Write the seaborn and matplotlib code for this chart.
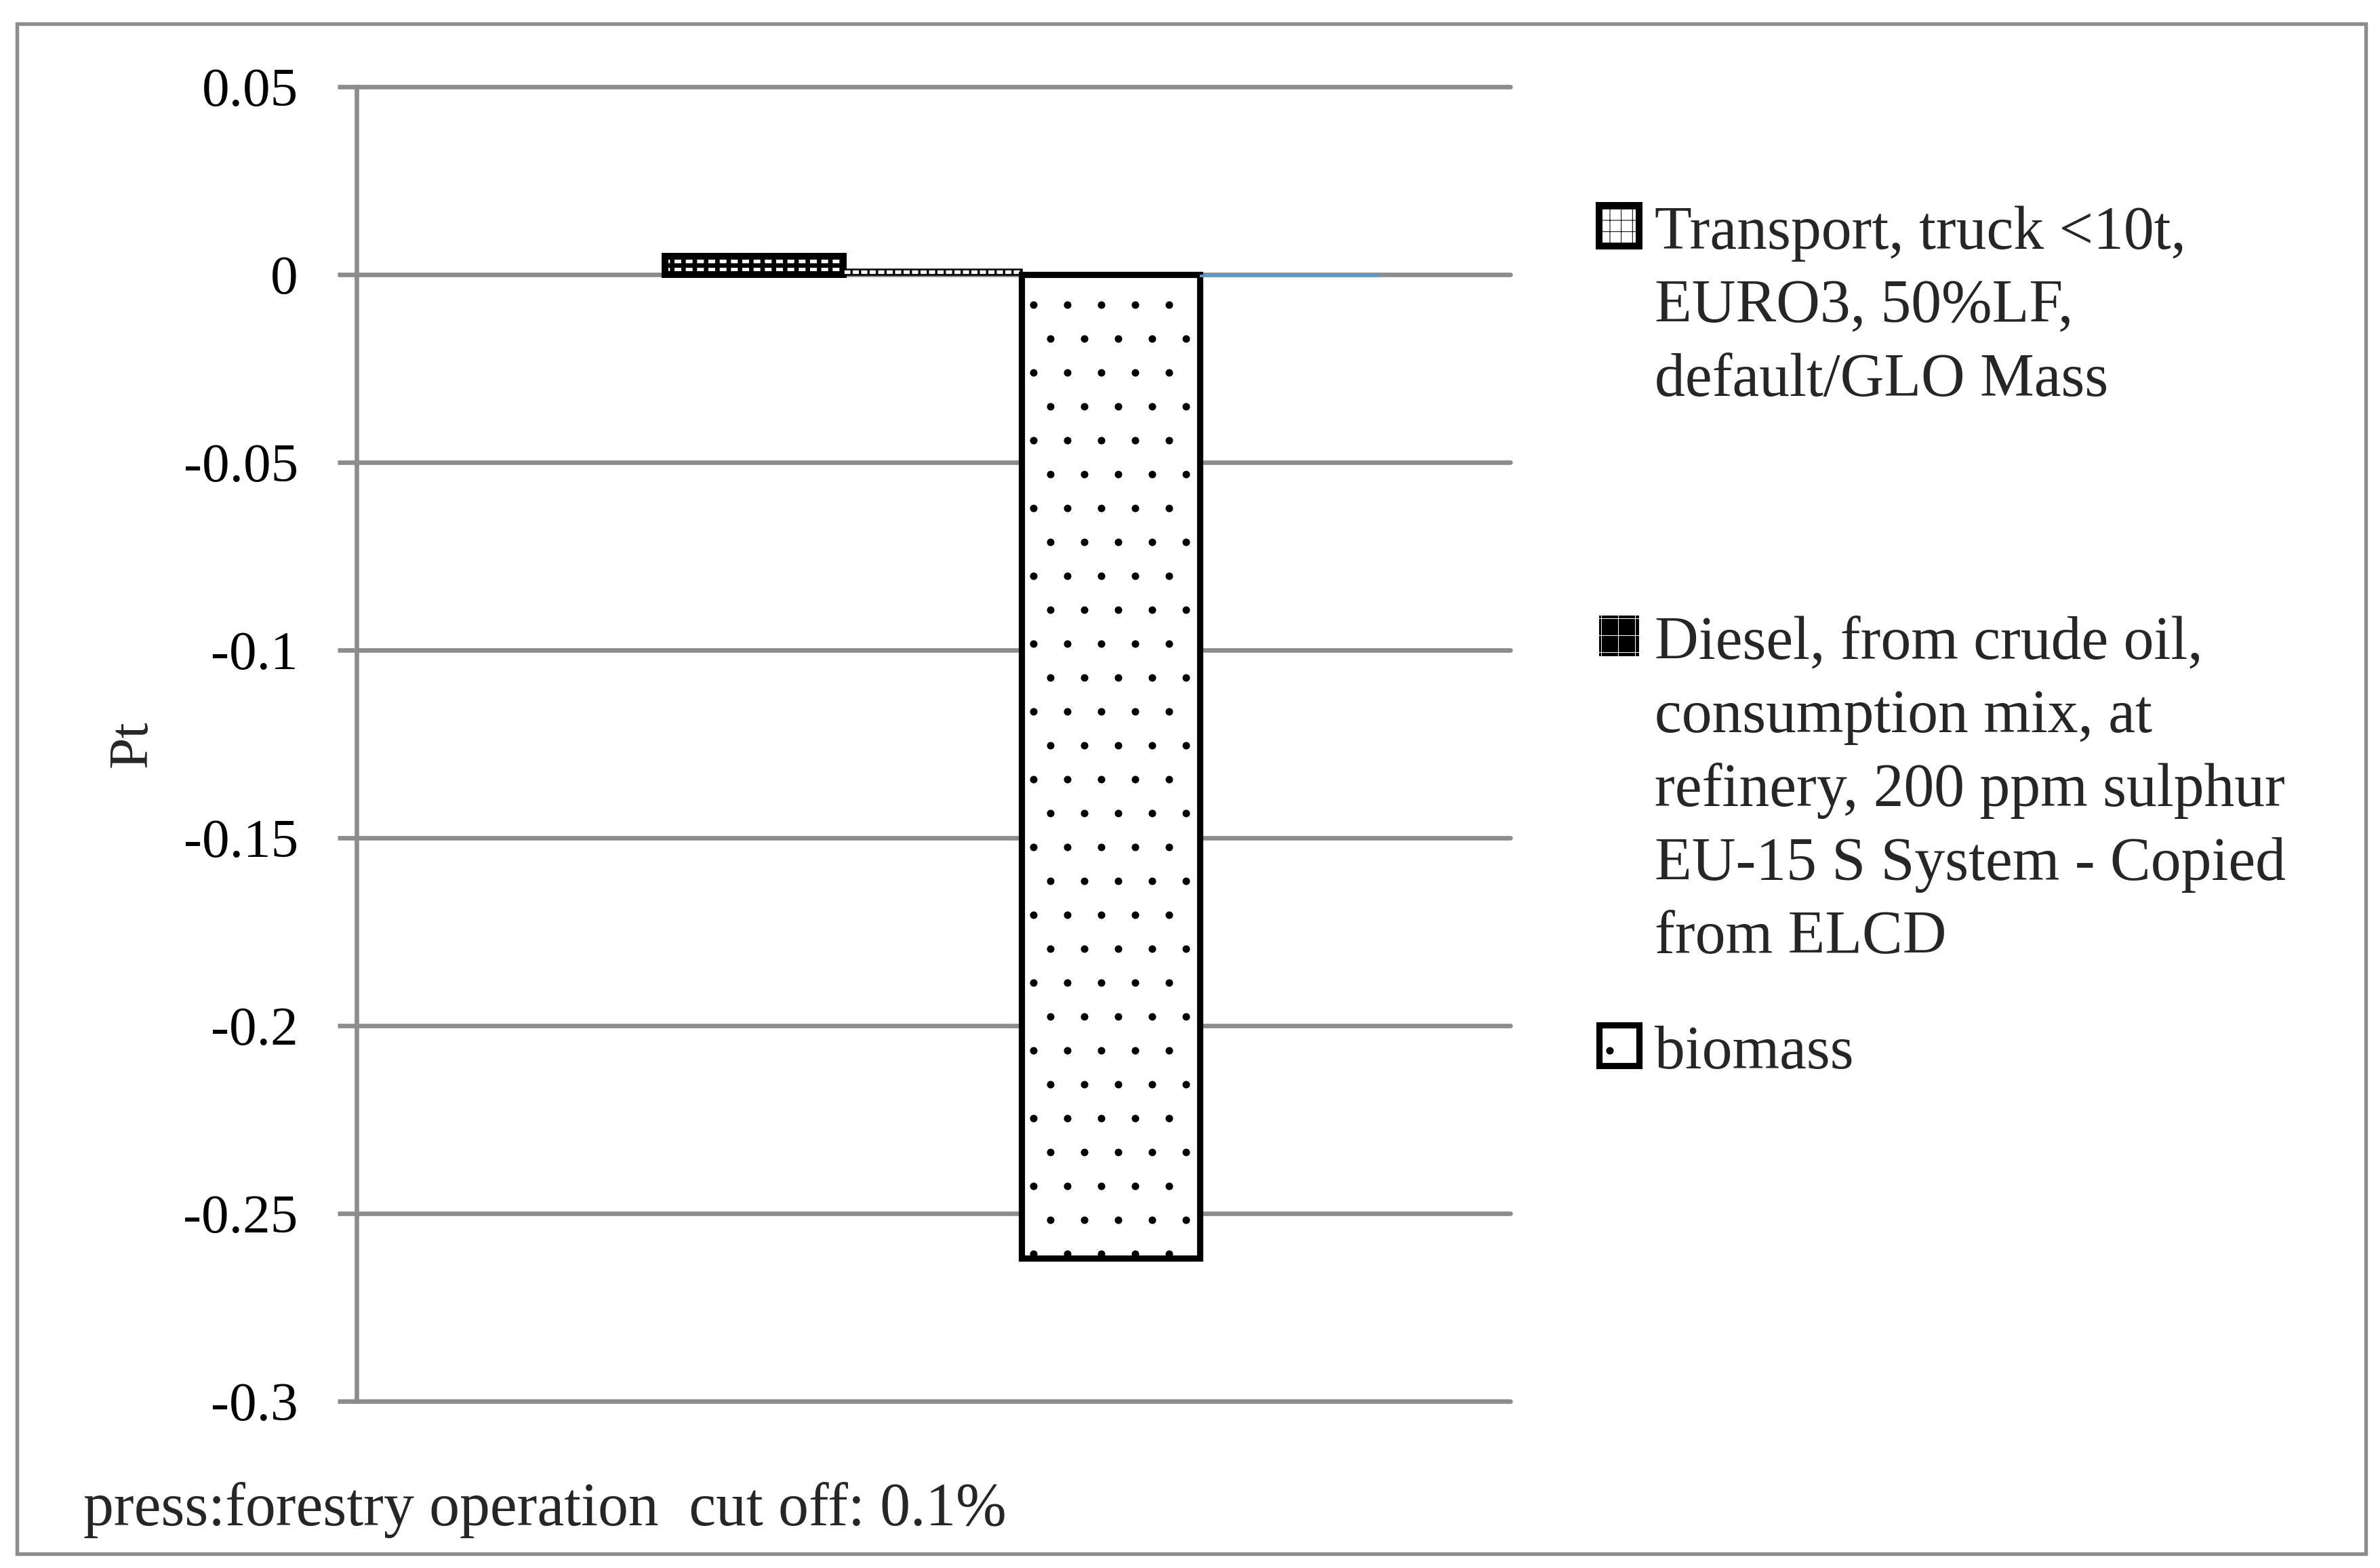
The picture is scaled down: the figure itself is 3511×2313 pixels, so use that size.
import matplotlib
matplotlib.use("Agg")
import matplotlib.pyplot as plt
from matplotlib.patches import Patch, Rectangle
import seaborn as sns
import pandas as pd

# single-score contributions (Pt)
processes = [
    "Transport, truck <10t,\nEURO3, 50%LF,\ndefault/GLO Mass",
    "Diesel, from crude oil,\nconsumption mix, at\nrefinery, 200 ppm sulphur\nEU-15 S System - Copied\nfrom ELCD",
    "biomass",
    "other",
]
scores = [0.0048, 0.0014, -0.262, -0.0008]
in_legend = [True, True, True, False]
yticks = [0.05, 0, -0.05, -0.1, -0.15, -0.2, -0.25, -0.3]
ytick_labels = ["0.05", "0", "-0.05", "-0.1", "-0.15", "-0.2", "-0.25", "-0.3"]
note = "press:forestry operation  cut off: 0.1%"

# styles for each bar
fills = ["white", "white", "white", "#4a9fd8"]
edges = ["black", "black", "black", "#4a9fd8"]
hatches = ["+++", "++++", ".", ""]
hatch_w = [1.6, 0.8, 0.25, 0.5]
edge_w = [2.4, 0.6, 2.2, 0]
grey = "#8c8c8c"

sns.set_theme(style="white")
plt.rcParams["font.family"] = ["Liberation Serif", "DejaVu Serif"]
plt.rcParams["hatch.linewidth"] = 0.25

fig = plt.figure(figsize=(3511 / 300, 2313 / 300), dpi=300)
fig.patches.append(Rectangle((0.007, 0.009), 0.987, 0.976, transform=fig.transFigure,
                             fill=False, edgecolor=grey, linewidth=1.3))

ax = fig.add_axes([0.1498, 0.1064, 0.4848, 0.8383])
df = pd.DataFrame({"process": processes, "Pt": scores})
sns.barplot(data=df, x="process", y="Pt", hue="process", palette=fills, saturation=1,
            width=1.0, legend=False, ax=ax)

for bar, ec, h, lw, hw in zip(ax.patches, edges, hatches, edge_w, hatch_w):
    bar.set_edgecolor(ec)
    bar.set_hatch(h)
    bar.set_linewidth(lw)
    if hasattr(bar, "set_hatch_linewidth"):
        bar.set_hatch_linewidth(hw)
    bar.set_zorder(3)

ax.set_xlim(-2.23, 4.241)
ax.set_ylim(-0.3, 0.05)
ax.set_yticks(yticks)
ax.set_yticklabels(ytick_labels, fontsize=19.5)
ax.set_xticks([])
ax.set_xlabel("")
ax.set_ylabel("Pt", fontsize=20)
ax.yaxis.set_label_coords(-0.172, 0.5)

ax.grid(axis="y", color=grey, linewidth=1.6)
for gl in ax.get_ygridlines():
    gl.set_clip_on(False)
ax.set_axisbelow(True)
for side in ["top", "right", "bottom"]:
    ax.spines[side].set_visible(False)
ax.spines["left"].set_color(grey)
ax.spines["left"].set_linewidth(1.6)
ax.tick_params(axis="y", which="major", left=True, length=6.7, width=1.6, color=grey,
               pad=14, labelcolor="black")

# legend entries, one block each, marker lined up with first text line
anchors = [(0.6719, 0.869), (0.6719, 0.6074), (0.6719, 0.3463)]
legend_hatch = ["+++", "++", "."]
legend_hw = [1.6, 1.6, 0.8]
legend_face = ["white", "black", "white"]
legend_edge = ["black", "white", "black"]
legend_lw = [2.4, 0.0, 2.2]
k = 0
for i, name in enumerate(processes):
    if not in_legend[i]:
        continue
    handle = Patch(facecolor=legend_face[k], edgecolor=legend_edge[k],
                   hatch=legend_hatch[k], linewidth=legend_lw[k])
    if hasattr(handle, "set_hatch_linewidth"):
        handle.set_hatch_linewidth(legend_hw[k])
    leg = fig.legend([handle], [name], loc="upper left", bbox_to_anchor=anchors[k],
                     bbox_transform=fig.transFigure, frameon=False, fontsize=21.5,
                     borderpad=0, borderaxespad=0, handlelength=0.66, handleheight=0.66,
                     handletextpad=0.25)
    for txt in leg.get_texts():
        txt.set_linespacing(1.41)
    for col in leg._legend_handle_box.get_children():
        for item in col.get_children():
            item.align = "top"
    k += 1

fig.text(0.035, 0.0272, note, fontsize=21.5, va="baseline", ha="left")

fig.savefig("out.png", dpi=300, facecolor="white")
